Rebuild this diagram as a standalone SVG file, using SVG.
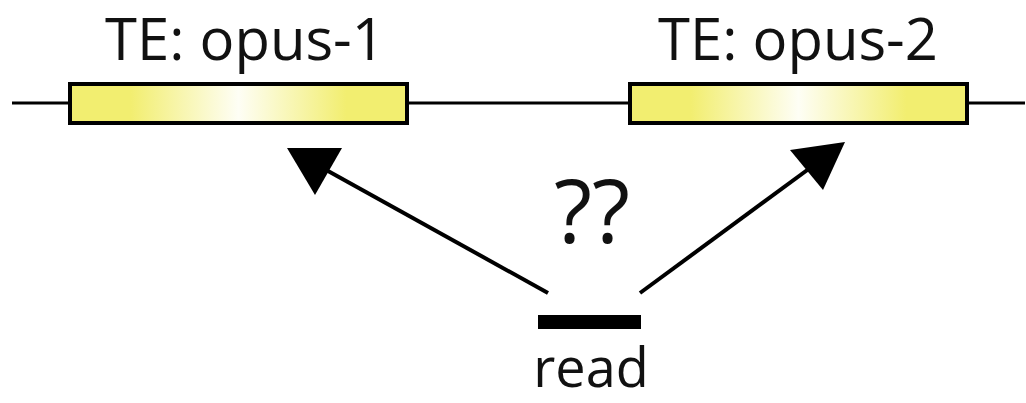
<svg xmlns="http://www.w3.org/2000/svg" width="1026" height="403" viewBox="0 0 1026 403">
<defs>
<linearGradient id="te" x1="0" y1="0" x2="1" y2="0">
<stop offset="0" stop-color="#f2ee70"/>
<stop offset="0.18" stop-color="#f2ee70"/>
<stop offset="0.5" stop-color="#fefef5"/>
<stop offset="0.82" stop-color="#f2ee70"/>
<stop offset="1" stop-color="#f2ee70"/>
</linearGradient>
<style>
.lbl{font-family:"Open Sans","Liberation Sans",sans-serif;fill:#111;text-anchor:middle}
.te{fill:url(#te);stroke:#000;stroke-width:4}
.conn{stroke:#000;stroke-width:4;fill:none}
</style>
</defs>
<g id="chromosome">
<line x1="12" y1="103" x2="1025" y2="103" stroke="#000" stroke-width="3"/>
</g>
<g id="te1">
<rect class="te" x="70" y="84" width="337" height="39"/>
<text class="lbl" x="245" y="60" font-size="58">TE: opus-1</text>
</g>
<g id="te2">
<rect class="te" x="630" y="84" width="337" height="39"/>
<text class="lbl" x="798" y="60" font-size="58">TE: opus-2</text>
</g>
<g id="read">
<rect x="538" y="315" width="103" height="14" fill="#000"/>
<text class="lbl" x="591" y="387" font-size="54">read</text>
</g>
<g id="connectors">
<line class="conn" x1="548" y1="293" x2="310" y2="161"/>
<path d="M287,148 L342,148 L315,195 Z" fill="#000"/>
<line class="conn" x1="640" y1="293" x2="825" y2="157"/>
<path d="M845,142 L790,150 L823,190 Z" fill="#000"/>
</g>
<text class="lbl" x="592" y="243" font-size="88">??</text>
</svg>
